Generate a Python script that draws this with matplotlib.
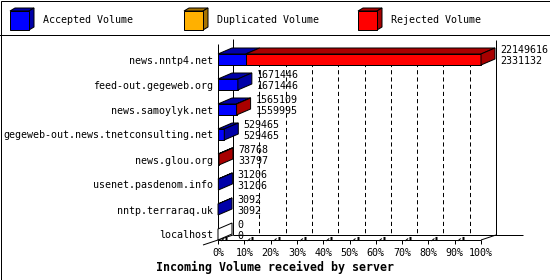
import matplotlib
matplotlib.use("Agg")
import matplotlib.pyplot as plt
from matplotlib.patches import Polygon, Rectangle
import numpy as np

# ---------------- data ----------------
servers = ["news.nntp4.net", "feed-out.gegeweb.org", "news.samoylyk.net",
           "gegeweb-out.news.tnetconsulting.net", "news.glou.org",
           "usenet.pasdenom.info", "nntp.terraraq.uk", "localhost"]
total_volume = [22149616, 1671446, 1565109, 529465, 78768, 31206, 3092, 0]
accepted_volume = [2331132, 1671446, 1559995, 529465, 33797, 31206, 3092, 0]
duplicated_volume = [0, 0, 0, 0, 0, 0, 0, 0]
rejected_volume = [t - a - d for t, a, d in zip(total_volume, accepted_volume, duplicated_volume)]
series_names = ["Accepted Volume", "Duplicated Volume", "Rejected Volume"]
tick_values = list(range(0, 101, 10))
tick_labels = [f"{v}%" for v in tick_values]
title = "Incoming Volume received by server"

# ---------------- style ----------------
W, H = 550, 280
FONT = "DejaVu Sans Mono"
FS = 7.2
front_col = ["#0000FF", "#FFB000", "#FF0000"]
dark_col = ["#0000A8", "#A87400", "#A80000"]
LW = 0.72  # 1 px

plt.rcParams["lines.scale_dashes"] = False
fig = plt.figure(figsize=(W / 100, H / 100), dpi=100)
fig.patch.set_facecolor("white")

# front plane in pixels
X0, X1 = 218, 481
YT, YB = 44, 240
ROW0, ROWSTEP = 59.5, 25.0
ax = fig.add_axes([X0 / W, (H - YB) / H, (X1 - X0) / W, (YB - YT) / H])
ax.set_xlim(0, 100)
ax.set_ylim((YB - ROW0) / ROWSTEP, (YT - ROW0) / ROWSTEP)
ax.set_facecolor("none")
for s in ax.spines.values():
    s.set_visible(False)

pxx = (X1 - X0) / 100.0   # px per percent
pxy = ROWSTEP             # px per row
bdx, bdy = 14 / pxx, 6 / pxy     # bar depth
wdx, wdy = 15 / pxx, 5 / pxy     # wall depth
bh = 5.5 / pxy                   # half bar height
ytop, ybot = ax.get_ylim()[1], ax.get_ylim()[0]

def line(xs, ys, **kw):
    kw.setdefault("color", "black")
    kw.setdefault("lw", LW)
    ax.plot(xs, ys, clip_on=False, solid_capstyle="butt", **kw)

# walls / floor
line([0, 0], [ytop, ybot], zorder=1)
line([wdx, wdx], [ytop - wdy, ybot - wdy], zorder=1)
line([100 + wdx, 100 + wdx], [ytop - wdy + 1 / pxy, ybot - wdy], zorder=1)
for v in tick_values[1:-1]:
    line([v + wdx, v + wdx], [-bh - bdy + 0.0, ybot - wdy], ls=(0, (3, 2.2)), zorder=1)
line([wdx, (523 - X0) / pxx], [ybot - wdy, ybot - wdy], zorder=1)
line([-wdx, wdx], [ybot + wdy, ybot - wdy], zorder=1)
line([100, 100 + wdx], [ybot, ybot - wdy], zorder=1)
line([0, 100], [ybot, ybot], zorder=1)
for v in tick_values:
    line([v, v], [ybot, ybot + 4 / pxy], zorder=1)
    if v < 100:
        line([v + 3 / pxx, v + 6 / pxx], [ybot + 1 / pxy, ybot - 1.5 / pxy], zorder=1)
        line([v + 7 / pxx, v + 9 / pxx], [ybot - 2 / pxy, ybot - 2 / pxy], lw=2.2, zorder=1)

maxv = max(total_volume)
series = [accepted_volume, duplicated_volume, rejected_volume]

def poly(pts, fc):
    ax.add_patch(Polygon(pts, closed=True, facecolor=fc, edgecolor="black",
                         lw=LW, clip_on=False, zorder=3, joinstyle="miter"))

for i, name in enumerate(servers):
    x = 0.0
    last = None
    for k, vals in enumerate(series):
        w = vals[i] / maxv * 100.0
        if w <= 0:
            continue
        y0, y1 = i - bh, i + bh
        poly([(x, y0), (x + w, y0), (x + w + bdx, y0 - bdy), (x + bdx, y0 - bdy)], dark_col[k])
        poly([(x, y0), (x + w, y0), (x + w, y1), (x, y1)], front_col[k])
        x += w
        last = k
    y0, y1 = i - bh, i + bh
    side_fc = dark_col[last] if last is not None else "white"
    poly([(x, y0), (x + bdx, y0 - bdy), (x + bdx, y1 - bdy), (x, y1)], side_fc)
    ax.annotate(str(total_volume[i]), xy=(x + bdx, i), xytext=(3.6, 6.8),
                textcoords="offset points", ha="left", va="center",
                fontsize=FS, family=FONT, annotation_clip=False)
    ax.annotate(str(accepted_volume[i]), xy=(x + bdx, i), xytext=(3.6, -1.1),
                textcoords="offset points", ha="left", va="center",
                fontsize=FS, family=FONT, annotation_clip=False)

ax.set_xticks(tick_values, labels=tick_labels, fontsize=FS, family=FONT)
ax.set_yticks(range(len(servers)), labels=servers, fontsize=FS, family=FONT)
ax.tick_params(axis="x", length=0, pad=6.0)
ax.tick_params(axis="y", length=0, pad=3.6)

fig.text(0.5, (H - 267) / H, title, ha="center", va="center",
         fontsize=8.4, family=FONT, fontweight="bold")

# legend + frame (pixel overlay)
lax = fig.add_axes([0, 0, 1, 1], zorder=-1)
lax.set_xlim(0, W)
lax.set_ylim(H, 0)
lax.axis("off")
lax.add_patch(Rectangle((0.5, 0.5), W - 1, H - 1, fill=False, edgecolor="black", lw=LW))
lax.plot([0, W], [34.5, 34.5], color="black", lw=LW)
leg_x = [10, 184, 358]
for k, nm in enumerate(series_names):
    lx = leg_x[k]
    fx0, fy0, fs_ = lx, 11, 19
    d = 5
    lax.add_patch(Polygon([(fx0, fy0), (fx0 + d, fy0 - 3), (fx0 + fs_ + d, fy0 - 3), (fx0 + fs_, fy0)],
                          facecolor=dark_col[k], edgecolor="black", lw=LW))
    lax.add_patch(Polygon([(fx0 + fs_, fy0), (fx0 + fs_ + d, fy0 - 3), (fx0 + fs_ + d, fy0 + fs_ - 3), (fx0 + fs_, fy0 + fs_)],
                          facecolor=dark_col[k], edgecolor="black", lw=LW))
    lax.add_patch(Rectangle((fx0, fy0), fs_, fs_, facecolor=front_col[k], edgecolor="black", lw=LW))
    lax.text(lx + 33, 20, nm, ha="left", va="center", fontsize=FS, family=FONT)

fig.savefig("out.png", dpi=100)
